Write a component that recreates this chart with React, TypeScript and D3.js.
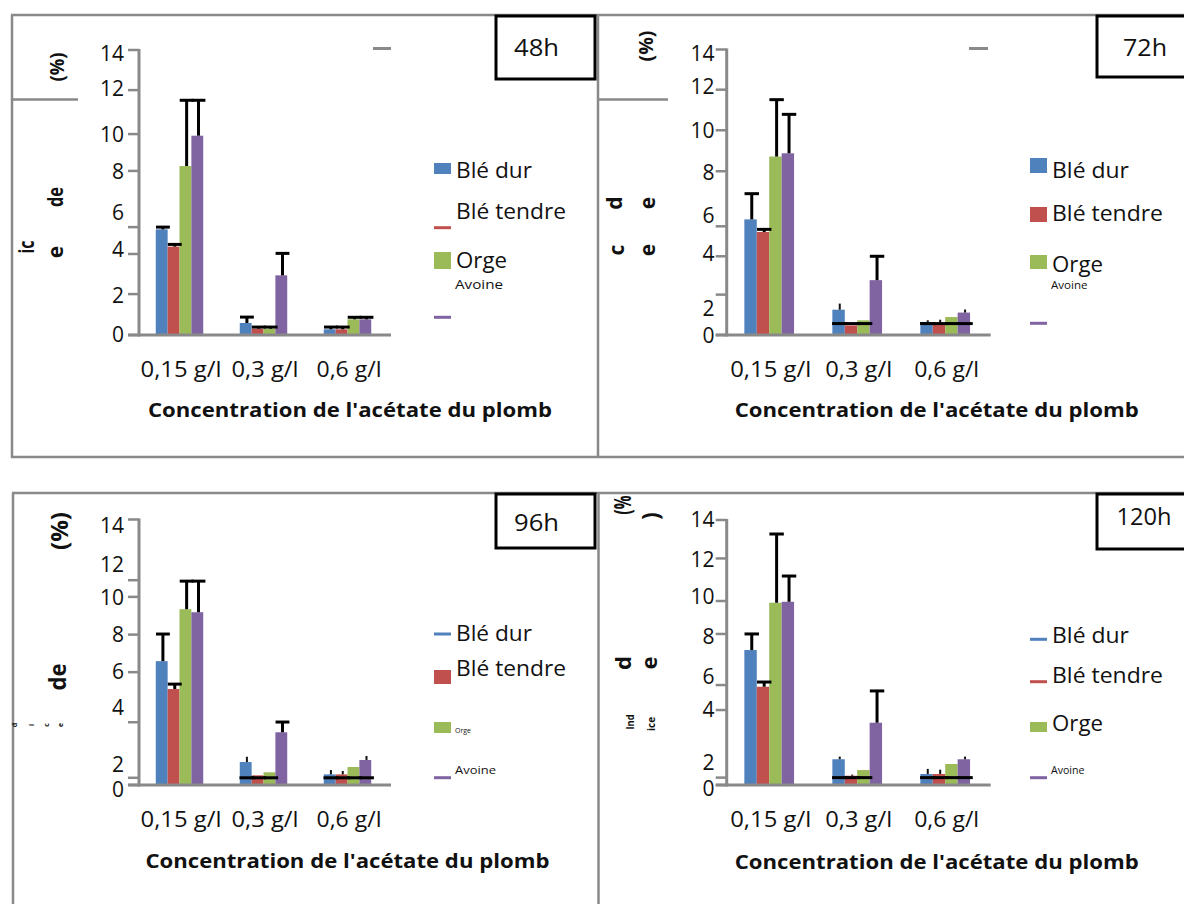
import React from 'react';
import * as d3 from 'd3';

const concentrations = ['0,15 g/l', '0,3 g/l', '0,6 g/l'];
const species = ['Blé dur', 'Blé tendre', 'Orge', 'Avoine'];
const speciesColors = ['#4f81bd', '#c0504d', '#9bbb59', '#8064a2'];
const yTickLabels = ['0', '2', '4', '6', '8', '10', '12', '14'];
const xAxisTitle = "Concentration de l'acétate du plomb";

// Index (%) — rows: species, columns: concentrations
// 48 h
const mean48 = [
  [5.19, 0.59, 0.28],
  [4.34, 0.31, 0.28],
  [8.3, 0.31, 0.77],
  [9.79, 2.93, 0.77],
];
const sdTop48 = [
  [5.3, 0.88, 0.39],
  [4.45, 0.39, 0.39],
  [11.53, 0.39, 0.87],
  [11.53, 4.01, 0.87],
];
const thinTop48 = [
  [null, null, null],
  [null, null, null],
  [null, null, null],
  [null, null, null],
];
const capLine48 = [
  [null, null, null],
  [null, null, null],
  [null, null, null],
  [null, null, null],
];
const tickAt48 = [0, 2.01, 3.98, 5.3, 8.06, 9.87, 12.03, 14];
const labelAt48 = [0.05, 1.96, 4.2, 6.04, 8.05, 9.87, 12.1, 13.85];

// 72 h
const mean72 = [
  [5.67, 1.24, 0.64],
  [5.05, 0.47, 0.56],
  [8.75, 0.72, 0.88],
  [8.91, 2.69, 1.1],
];
const sdTop72 = [
  [6.93, null, null],
  [5.18, null, null],
  [11.54, null, null],
  [10.82, 3.86, null],
];
const thinTop72 = [
  [null, 1.54, 0.72],
  [null, null, 0.75],
  [null, null, null],
  [null, null, 1.25],
];
const capLine72 = [
  [null, 0.56, 0.56],
  [null, 0.56, 0.56],
  [null, 0.56, 0.56],
  [null, null, 0.56],
];
const tickAt72 = [0, 1.98, 3.86, 5.33, 8.03, 10.04, 12.03, 14];
const labelAt72 = [0, 1.3, 3.99, 5.85, 7.99, 10.04, 12.2, 13.8];

// 96 h
const mean96 = [
  [6.53, 1.21, 0.56],
  [5.06, 0.51, 0.56],
  [9.27, 0.67, 0.95],
  [9.11, 2.78, 1.32],
];
const sdTop96 = [
  [7.96, null, null],
  [5.32, null, null],
  [10.75, null, null],
  [10.75, 3.32, null],
];
const thinTop96 = [
  [null, 1.49, 0.79],
  [null, null, 0.74],
  [null, null, null],
  [null, null, 1.53],
];
const capLine96 = [
  [null, 0.38, 0.38],
  [null, 0.38, 0.38],
  [null, 0.38, 0.38],
  [null, null, 0.38],
];
const tickAt96 = [0, 0.38, 3.31, 5.95, 7.93, 9.92, 10.8, 14];
const labelAt96 = [-0.25, 1.1, 4.1, 6.0, 7.96, 9.88, 11.62, 13.7];

// 120 h
const mean120 = [
  [7.13, 1.36, 0.58],
  [5.19, 0.49, 0.58],
  [9.63, 0.79, 1.11],
  [9.68, 3.29, 1.36],
];
const sdTop120 = [
  [7.98, null, null],
  [5.44, null, null],
  [13.26, null, null],
  [11.04, 4.97, null],
];
const thinTop120 = [
  [null, 1.5, 0.85],
  [null, 0.55, 0.81],
  [null, null, null],
  [null, null, 1.5],
];
const capLine120 = [
  [null, 0.39, 0.39],
  [null, 0.39, 0.39],
  [null, 0.39, 0.39],
  [null, null, 0.39],
];
const tickAt120 = [0, 0.39, 3.96, 5.28, 7.98, 9.72, 11.97, 14];
const labelAt120 = [-0.2, 1.19, 4.01, 5.76, 7.87, 9.98, 11.94, 14.05];

const FONT = "'Open Sans', Lato, 'Liberation Sans', sans-serif";
const GREY = '#898989';

type Frag = { t: string; x: number; y: number; size: number; len?: number };
type LegendItem = { kind: 'rect' | 'line'; y0: number; y1?: number; ty: number; size: number; len: number };

const panels = [
  {
    time: '48h', mean: mean48, sdTop: sdTop48, thinTop: thinTop48, capLine: capLine48,
    tickAt: tickAt48, labelAt: labelAt48,
    x0: 139, x1: 391, yBase: 335, yTop: 50, labelRight: 124,
    xLabelY: 376.5, titleX: 148, titleY: 416.5,
    box: { x: 496, y: 16, w: 99, h: 63, tx: 514, ty: 56, tw: 45 },
    stub: [373, 391, 48.5],
    mx: 434, tx: 456,
    legend: [
      { kind: 'rect', y0: 163, y1: 174, ty: 177.5, size: 21, len: 76 },
      { kind: 'line', y0: 227.7, ty: 219, size: 21, len: 110 },
      { kind: 'rect', y0: 252, y1: 269, ty: 267.5, size: 21, len: 51 },
      { kind: 'line', y0: 317.3, ty: 289, size: 12, len: 48 },
    ] as LegendItem[],
    frags: [
      { t: '(%)', x: 57, y: 67, size: 20, len: 29 },
      { t: 'de', x: 56, y: 197, size: 21, len: 20 },
      { t: 'e', x: 56, y: 252, size: 21 },
      { t: 'ic', x: 27, y: 247, size: 21, len: 13 },
    ] as Frag[],
  },
  {
    time: '72h', mean: mean72, sdTop: sdTop72, thinTop: thinTop72, capLine: capLine72,
    tickAt: tickAt72, labelAt: labelAt72,
    x0: 726.7, x1: 990.7, yBase: 335, yTop: 49.5, labelRight: 714.5,
    xLabelY: 376.5, titleX: 734.7, titleY: 416.5,
    box: { x: 1097, y: 16, w: 95, h: 61, tx: 1123, ty: 56, tw: 44 },
    stub: [969, 988, 48.5],
    mx: 1030, tx: 1052,
    legend: [
      { kind: 'rect', y0: 158, y1: 173, ty: 178, size: 21, len: 77 },
      { kind: 'rect', y0: 207, y1: 222, ty: 221, size: 21, len: 111 },
      { kind: 'rect', y0: 255, y1: 269, ty: 272, size: 21, len: 51 },
      { kind: 'line', y0: 323.3, ty: 289, size: 10, len: 36.5 },
    ] as LegendItem[],
    frags: [
      { t: '(%)', x: 646, y: 46, size: 20, len: 31 },
      { t: 'd', x: 615, y: 203, size: 21 },
      { t: 'e', x: 648, y: 203, size: 21 },
      { t: 'c', x: 617, y: 250, size: 21 },
      { t: 'e', x: 648, y: 250, size: 21 },
    ] as Frag[],
  },
  {
    time: '96h', mean: mean96, sdTop: sdTop96, thinTop: thinTop96, capLine: capLine96,
    tickAt: tickAt96, labelAt: labelAt96,
    x0: 139, x1: 391, yBase: 785, yTop: 519.5, labelRight: 124,
    xLabelY: 826.5, titleX: 145.4, titleY: 868,
    box: { x: 496, y: 494, w: 99, h: 54, tx: 514, ty: 531, tw: 45 },
    stub: null,
    mx: 434, tx: 456,
    legend: [
      { kind: 'line', y0: 634, ty: 641, size: 21, len: 76 },
      { kind: 'rect', y0: 670, y1: 684, ty: 676, size: 21, len: 110 },
      { kind: 'rect', y0: 722, y1: 733, ty: 732.5, size: 7, len: 16 },
      { kind: 'line', y0: 777.7, ty: 774, size: 11, len: 41 },
    ] as LegendItem[],
    frags: [
      { t: '(%)', x: 60, y: 531, size: 23, len: 38 },
      { t: 'de', x: 58, y: 677, size: 24, len: 27 },
      { t: 'd', x: 15, y: 725, size: 7 },
      { t: 'i', x: 32, y: 725, size: 7 },
      { t: 'c', x: 47, y: 725, size: 7 },
      { t: 'e', x: 61, y: 725, size: 7 },
    ] as Frag[],
  },
  {
    time: '120h', mean: mean120, sdTop: sdTop120, thinTop: thinTop120, capLine: capLine120,
    tickAt: tickAt120, labelAt: labelAt120,
    x0: 726.7, x1: 990.7, yBase: 785, yTop: 520, labelRight: 714.5,
    xLabelY: 827, titleX: 734.7, titleY: 869,
    box: { x: 1097, y: 494, w: 95, h: 55, tx: 1116.5, ty: 525, tw: 55 },
    stub: null,
    mx: 1030, tx: 1052,
    legend: [
      { kind: 'line', y0: 639.3, ty: 643, size: 21, len: 77 },
      { kind: 'line', y0: 681.7, ty: 683, size: 21, len: 111 },
      { kind: 'rect', y0: 722, y1: 732, ty: 730.5, size: 21, len: 51 },
      { kind: 'line', y0: 777.7, ty: 774, size: 10, len: 33.5 },
    ] as LegendItem[],
    frags: [
      { t: '(%', x: 623, y: 505, size: 23, len: 19 },
      { t: ')', x: 651, y: 516, size: 23 },
      { t: 'd', x: 623, y: 663, size: 22 },
      { t: 'e', x: 649, y: 663, size: 22 },
      { t: 'Ind', x: 630, y: 722, size: 11, len: 15 },
      { t: 'ice', x: 651, y: 724, size: 11, len: 14 },
    ] as Frag[],
  },
];

const xLabelWidths = [81, 67, 65];

function Panel({ p }: { p: (typeof panels)[number] }) {
  const y = d3.scaleLinear().domain([0, 14]).range([p.yBase, p.yTop]);
  const x = d3.scaleBand<string>().domain(concentrations).range([p.x0, p.x1]);
  const groupW = x.bandwidth() * 0.565;
  const xs = d3.scaleBand<string>().domain(species).range([0, groupW]);
  const bw = xs.bandwidth();
  const barX = (ci: number, si: number) =>
    (x(concentrations[ci]) as number) + (x.bandwidth() - groupW) / 2 - 1.5 + (xs(species[si]) as number);
  const mid = (ci: number, si: number) => barX(ci, si) + bw / 2 + 1.2;
  const capHalf = bw / 2 + 1;

  return (
    <g>
      {/* bars */}
      {species.map((s, si) =>
        concentrations.map((c, ci) => {
          const v = p.mean[si][ci];
          return (
            <rect
              key={`b-${s}-${c}`}
              x={barX(ci, si)}
              y={y(v)}
              width={bw}
              height={p.yBase - y(v)}
              fill={speciesColors[si]}
            />
          );
        })
      )}

      {/* axes */}
      <line x1={p.x0} x2={p.x0} y1={y(14) - 1} y2={p.yBase + 1.5} stroke={GREY} strokeWidth={3} />
      <line x1={p.x0 - 11} x2={p.x1} y1={p.yBase} y2={p.yBase} stroke={GREY} strokeWidth={3} />
      {p.tickAt.map((t, i) => (
        <line key={`t${i}`} x1={p.x0 - 11} x2={p.x0} y1={y(t)} y2={y(t)} stroke={GREY} strokeWidth={2.5} />
      ))}
      {yTickLabels.map((lab, i) => (
        <text
          key={`yl${i}`}
          x={p.labelRight}
          y={y(p.labelAt[i])}
          dy="0.36em"
          textAnchor="end"
          fontFamily={FONT}
          fontSize={21}
          fill="#111"
        >
          {lab}
        </text>
      ))}

      {/* thick error bars with caps */}
      {species.map((s, si) =>
        concentrations.map((c, ci) => {
          const top = p.sdTop[si][ci];
          if (top == null) return null;
          const cx = mid(ci, si);
          return (
            <g key={`e-${s}-${c}`}>
              <line x1={cx} x2={cx} y1={y(p.mean[si][ci])} y2={y(top)} stroke="#000" strokeWidth={3} />
              <line x1={cx - capHalf} x2={cx + capHalf} y1={y(top)} y2={y(top)} stroke="#000" strokeWidth={3} />
            </g>
          );
        })
      )}
      {/* thin error whiskers */}
      {species.map((s, si) =>
        concentrations.map((c, ci) => {
          const top = p.thinTop[si][ci];
          if (top == null) return null;
          const cx = mid(ci, si);
          return (
            <line
              key={`w-${s}-${c}`}
              x1={cx}
              x2={cx}
              y1={y(p.mean[si][ci])}
              y2={y(top)}
              stroke="#111"
              strokeWidth={2}
            />
          );
        })
      )}
      {/* horizontal caps */}
      {species.map((s, si) =>
        concentrations.map((c, ci) => {
          const v = p.capLine[si][ci];
          if (v == null) return null;
          const cx = mid(ci, si);
          return (
            <line
              key={`c-${s}-${c}`}
              x1={cx - capHalf - 0.5}
              x2={cx + capHalf + 0.5}
              y1={y(v)}
              y2={y(v)}
              stroke="#000"
              strokeWidth={3}
            />
          );
        })
      )}

      {/* category labels */}
      {concentrations.map((c, ci) => {
        const cx = (x(c) as number) + x.bandwidth() / 2;
        const w = xLabelWidths[ci];
        return (
          <text
            key={`xl${ci}`}
            x={cx - w / 2}
            y={p.xLabelY}
            textLength={w}
            lengthAdjust="spacingAndGlyphs"
            fontFamily={FONT}
            fontSize={22}
            fill="#111"
          >
            {c}
          </text>
        );
      })}
      <text
        x={p.titleX}
        y={p.titleY}
        textLength={404}
        lengthAdjust="spacingAndGlyphs"
        fontFamily={FONT}
        fontWeight="bold"
        fontSize={20}
        fill="#111"
      >
        {xAxisTitle}
      </text>

      {/* legend */}
      {p.legend.map((it, i) => (
        <g key={`lg${i}`}>
          {it.kind === 'rect' ? (
            <rect x={p.mx} y={it.y0} width={17} height={(it.y1 as number) - it.y0} fill={speciesColors[i]} />
          ) : (
            <line x1={p.mx} x2={p.mx + 17} y1={it.y0} y2={it.y0} stroke={speciesColors[i]} strokeWidth={3} />
          )}
          <text
            x={it.size < 16 ? p.tx - 1 : p.tx}
            y={it.ty}
            textLength={it.len}
            lengthAdjust="spacingAndGlyphs"
            fontFamily={FONT}
            fontSize={it.size}
            fill="#111"
          >
            {species[i]}
          </text>
        </g>
      ))}

      {/* rotated axis-title fragments */}
      {p.frags.map((f, i) => (
        <text
          key={`f${i}`}
          transform={`translate(${f.x},${f.y}) rotate(-90)`}
          textAnchor="middle"
          dy="0.35em"
          fontFamily={FONT}
          fontWeight="bold"
          fontSize={f.size}
          textLength={f.len}
          lengthAdjust={f.len ? 'spacingAndGlyphs' : undefined}
          fill="#111"
        >
          {f.t}
        </text>
      ))}

      {p.stub && (
        <line x1={p.stub[0]} x2={p.stub[1]} y1={p.stub[2]} y2={p.stub[2]} stroke={GREY} strokeWidth={3} />
      )}

      {/* time label box */}
      <rect
        x={p.box.x}
        y={p.box.y}
        width={p.box.w}
        height={p.box.h}
        fill="#fff"
        stroke="#000"
        strokeWidth={3}
      />
      <text
        x={p.box.tx}
        y={p.box.ty}
        textLength={p.box.tw}
        lengthAdjust="spacingAndGlyphs"
        fontFamily={FONT}
        fontSize={24}
        fill="#111"
      >
        {p.time}
      </text>
    </g>
  );
}

export default function App() {
  return (
    <svg
      width={1184}
      height={904}
      viewBox="0 0 1184 904"
      style={{ position: 'absolute', left: 0, top: 0, background: '#fff' }}
    >
      <rect width={1184} height={904} fill="#fff" />
      {/* panel frames */}
      <g stroke={GREY} strokeWidth={2.5} fill="none">
        <line x1={11} x2={1184} y1={15} y2={15} />
        <line x1={12} x2={12} y1={15} y2={458} />
        <line x1={11} x2={1184} y1={457} y2={457} />
        <line x1={598} x2={598} y1={15} y2={458} />
        <line x1={12} x2={78} y1={99.5} y2={99.5} />
        <line x1={599} x2={668} y1={99.5} y2={99.5} />
        <line x1={12} x2={1184} y1={493} y2={493} />
        <line x1={13} x2={13} y1={493} y2={904} />
        <line x1={598.5} x2={598.5} y1={493} y2={904} />
      </g>
      {panels.map((p) => (
        <Panel key={p.time} p={p} />
      ))}
    </svg>
  );
}
